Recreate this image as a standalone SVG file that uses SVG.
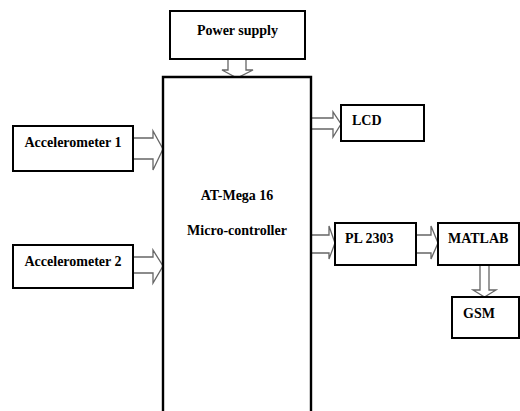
<svg xmlns="http://www.w3.org/2000/svg" width="520" height="411" viewBox="0 0 520 411">
<style>
.box{fill:#fff;stroke:#000;stroke-width:2}
.arr{fill:#fff;stroke:#666;stroke-width:1.3;stroke-linejoin:miter}
.t{font-family:"Liberation Serif","Times New Roman",serif;font-weight:bold;font-size:14px;fill:#000}
</style>
<rect width="520" height="411" fill="#fff"/>
<g id="connectors">
<polygon class="arr" points="228,58 246,58 246,70 253,70 237,78 222,70 228,70"/>
<polygon class="arr" points="132,138 153,138 153,131 163,149 153,170 153,159 132,159"/>
<polygon class="arr" points="132,257 153,257 153,250 163,266 153,283 153,273 132,273"/>
<polygon class="arr" points="311,118 333,118 333,112 341,124 333,137 333,129 311,129"/>
<polygon class="arr" points="311,235 329,235 329,226 335,243 329,259 329,253 311,253"/>
<polygon class="arr" points="415,235 431,235 431,226 438,243 431,259 431,253 415,253"/>
<polygon class="arr" points="480,264 489,264 489,290 496,290 484.5,297 473,290 480,290"/>
</g>
<g id="power">
<rect class="box" x="170" y="11" width="135" height="48"/>
<text class="t" x="237.5" y="35" text-anchor="middle">Power supply</text>
</g>
<g id="mcu">
<path d="M163,420 V77 H311 V420" fill="#fff" stroke="#000" stroke-width="2.4"/>
<text class="t" x="237" y="200" text-anchor="middle">AT-Mega 16</text>
<text class="t" x="237" y="235" text-anchor="middle">Micro-controller</text>
</g>
<g id="acc1">
<rect class="box" x="13" y="126" width="120" height="45"/>
<text class="t" x="73" y="147" text-anchor="middle">Accelerometer 1</text>
</g>
<g id="acc2">
<rect class="box" x="13" y="245" width="120" height="43"/>
<text class="t" x="73" y="266" text-anchor="middle">Accelerometer 2</text>
</g>
<g id="lcd">
<rect class="box" x="341" y="105" width="83" height="36"/>
<text class="t" x="352" y="125">LCD</text>
</g>
<g id="pl2303">
<rect class="box" x="335" y="223" width="81" height="42"/>
<text class="t" x="345" y="243">PL 2303</text>
</g>
<g id="matlab">
<rect class="box" x="438" y="223" width="81" height="42"/>
<text class="t" x="448" y="243">MATLAB</text>
</g>
<g id="gsm">
<rect class="box" x="452" y="297" width="67" height="41"/>
<text class="t" x="463" y="318">GSM</text>
</g>
</svg>
